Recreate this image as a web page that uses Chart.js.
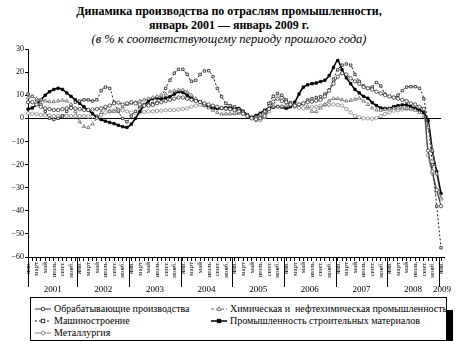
<!DOCTYPE html>
<html lang="ru">
  <head>
    <meta charset="UTF-8" />
    <title>Динамика производства по отраслям промышленности</title>
    <style>
      body {
        margin: 0;
        padding: 0;
        background-color: #fff;
        font-family: "Liberation Serif", "Times New Roman", serif;
        color: #000;
      }

      .wrap {
        position: relative;
        width: 458px;
        height: 341px;
        overflow: hidden;
      }

      .title {
        position: absolute;
        left: 0;
        top: 5px;
        width: 458px;
        text-align: center;
        line-height: 13.5px;
      }

      .title .main {
        font-weight: bold;
        font-size: 12px;
      }

      .title .sub {
        font-style: italic;
        font-size: 12.5px;
        margin-top: 1px;
      }

      #prodChart {
        position: absolute;
        left: 0;
        top: 0;
      }

      .legend {
        position: absolute;
        left: 30px;
        top: 297px;
        width: 417px;
        height: 44px;
        box-sizing: border-box;
        border: 1px solid #000;
        box-shadow: 6px 13px 0 #000;
        background: #fff;
        padding-top: 6px;
        font-size: 10px;
        line-height: 10px;
        display: grid;
        grid-template-columns: 180px auto;
      }

      .legend .item {
        display: flex;
        align-items: center;
        height: 10px;
        white-space: pre;
      }

      .legend .item:nth-child(odd) {
        padding-left: 4px;
      }

      .legend svg {
        margin-right: 3px;
      }
    </style>
  </head>
  <body>
    <div class="wrap">
      <div class="title">
        <div class="main">Динамика производства по отраслям промышленности,</div>
        <div class="main">январь 2001 — январь 2009 г.</div>
        <div class="sub">(в % к соответствующему периоду прошлого года)</div>
      </div>
      <canvas id="prodChart" width="458" height="296"></canvas>
      <div class="legend" id="legend"></div>
    </div>

    <script src="https://cdn.jsdelivr.net/npm/chart.js"></script>
    <script>
      const years = [2001, 2002, 2003, 2004, 2005, 2006, 2007, 2008, 2009];
      const monthNames = ["янв.", "", "март", "", "май", "", "июль", "", "сент.", "", "нояб.", ""];

      // Обрабатывающие производства
      const obrab = [
        7, 7, 6, 5, 4.3, 4, 3.6, 3.6, 4, 4.3, 4.5, 4.3,
        4, 3.6, 3.6, 3.8, 4, 4.3, 5, 5.5, 6.5, 6.8, 6, 6.5,
        7, 6.5, 6, 5.5, 5.5, 5.8, 6.5, 7, 7.5, 8, 8.5, 9,
        9, 8.5, 8, 7.5, 7, 6.5, 6, 5.5, 5, 4.5, 4.2, 4,
        3.6, 3, 2, 1, 0, -0.5, 0, 1, 4, 7.2, 8.5, 7.5,
        7, 6, 5.5, 6, 6.5, 7, 7.2, 7.6, 8, 9.5, 12, 15,
        18, 19.5, 19, 17.3, 16, 15, 13.5, 13, 12.5, 11.5, 10.8, 10,
        9.5, 9, 8.5, 8, 7.5, 6.5, 6, 5, 4, -14, -23, -31,
        -38,
      ];

      // Машиностроение
      const mash = [
        10.5, 9.5, 8, 6, 3, 0, -0.5, 0, 1, 3, 5.5, 7,
        7.5, 8, 8, 7.5, 8, 12, 13.5, 13, 7, 3, 0, -1.5,
        1, 3, 5, 6, 6, 6.5, 7, 9.5, 13, 16.5, 19.5, 21.2,
        21.2, 19, 16, 16.5, 19, 20.5, 20.6, 18, 13, 9.5, 6.5, 5.5,
        5, 4, 3, 1.4, 0, -0.7, 0.5, 2.5, 6.5, 9.5, 10.8, 10,
        8, 6.8, 5.8, 5.8, 6.5, 7.9, 8.5, 9, 9.4, 10.5, 12.3, 17,
        21, 23, 23.5, 23, 19, 16, 14, 13, 13.5, 15.5, 14, 10.5,
        9.5, 9, 10, 12, 13.5, 13.7, 13.7, 13, 8.5, -3, -20, -38,
        -56,
      ];

      // Металлургия
      const metall = [
        2.2, 2, 1.8, 1.5, 1.4, 1.2, 1, 1, 1, 1, 1, 1,
        1, 1, 0.8, 0.8, 1, 1.5, 2.5, 3, 3.5, 3.8, 3.5, 3,
        2.5, 2.2, 2.5, 2.8, 3, 3, 3.2, 3.3, 3.5, 3.6, 3.6, 3.8,
        4, 4.3, 5, 5.5, 5.8, 5.5, 5, 4.8, 4.5, 4.3, 4, 3.8,
        3.5, 3, 2.5, 1.5, 0.5, -0.5, -0.8, 0.5, 3, 6.5, 9.5, 9,
        7.5, 6, 5, 4.5, 4.3, 4.5, 5, 5, 5.5, 5.8, 5.8, 6,
        5.8, 5.5, 4, 2.5, 1, 0.5, 0, 0, -0.2, 0.2, 1, 1.9,
        2.5, 3.3, 3.5, 3.8, 4, 4.3, 4.3, 3.5, 2.5, -16, -24, -32,
        -35,
      ];

      // Химическая и нефтехимическая промышленность
      const khim = [
        9, 9.5, 8.5, 8, 7.5, 7.2, 7.2, 7.5, 7.8, 7.5, 6, 3,
        -1.5, -3.5, -4, -2.5, 0, 2.5, 4.3, 3, 2.9, 3.5, 5, 6,
        6.5, 7, 7.5, 8, 8.5, 9, 9.5, 10, 10.5, 11.5, 12, 12.3,
        12.3, 11.5, 10, 8.5, 7, 5.5, 4.5, 3.5, 2.5, 1.8, 1.9, 1.9,
        2, 2.2, 2, 1.5, 0.5, 0.5, 1.5, 3, 4.5, 5, 5, 5.2,
        5.5, 5.8, 5.8, 6, 6.2, 5, 3, 2.9, 4.5, 6, 7.5, 8.5,
        8.5, 8, 7.5, 7.8, 8.2, 8.7, 7.5, 6, 4.5, 3.6, 3.5, 3.8,
        4, 4.3, 4.5, 4.5, 4.3, 4, 3.5, 2.5, 1, -4, -14, -24,
        -34.5,
      ];

      // Промышленность строительных материалов
      const stroy = [
        4, 4.5, 6, 8, 10, 11.5, 12.5, 13, 12.5, 11, 9.5, 8,
        6.5, 5, 3.5, 2, 0.5, -0.5, -1.2, -1.8, -2.3, -3, -3.6, -3.9,
        -2.5, 0, 3, 5.5, 7.5, 8.5, 8.8, 8.4, 8.8, 9.4, 10.5, 11.5,
        11.2, 10, 8.7, 7.8, 7.2, 6, 4.8, 4.3, 4.3, 4.4, 4.6, 4.5,
        4.4, 4.3, 3, 1.5, 0.4, 1.2, 2.2, 3.5, 4.3, 4.8, 5.1, 4.9,
        4.3, 5, 7, 10.5, 13.5, 14.5, 15, 15.3, 15.9, 16.5, 18.5, 22,
        25, 21, 17.5, 15, 12.5, 11, 9.5, 8.7, 6.8, 5.5, 4.5, 4.3,
        4.3, 5, 5.5, 5.8, 5.8, 5, 4.3, 3.5, 2.5, -1, -14, -23,
        -32.5,
      ];

      const labels = [];
      years.forEach((y) => {
        monthNames.forEach((m, k) => {
          if (y < 2009 || k === 0) labels.push(y + "-" + (k + 1));
        });
      });

      const serif = '"Liberation Serif", "Times New Roman", serif';

      const seriesList = [
        {
          label: "Обрабатывающие производства",
          data: obrab,
          color: "#333",
          dash: [],
          point: "circle",
          fill: "#fff",
        },
        {
          label: "Химическая и  нефтехимическая промышленность",
          data: khim,
          color: "#666",
          dash: [3, 2],
          point: "triangle",
          fill: "#fff",
        },
        {
          label: "Машиностроение",
          data: mash,
          color: "#222",
          dash: [2, 2],
          point: "rect",
          fill: "#fff",
        },
        {
          label: "Промышленность строительных материалов",
          data: stroy,
          color: "#000",
          dash: [],
          point: "rect",
          fill: "#000",
        },
        {
          label: "Металлургия",
          data: metall,
          color: "#888",
          dash: [],
          point: "circle",
          fill: "#fff",
        },
      ];

      const datasets = seriesList.map((s) => ({
        label: s.label,
        data: s.data,
        borderColor: s.color,
        borderWidth: s.fill === "#000" ? 1.6 : 1,
        borderDash: s.dash,
        pointStyle: s.point,
        pointRadius: s.point === "triangle" ? 2 : 1.7,
        pointBorderWidth: 0.8,
        pointBorderColor: s.color,
        pointBackgroundColor: s.fill,
        tension: 0.3,
        fill: false,
      }));

      // year captions and separators under the month labels
      const yearMarks = {
        id: "yearMarks",
        afterDraw(chart) {
          const { ctx, chartArea } = chart;
          const x = chart.scales.x;
          const bottom = chartArea.bottom;
          const sepAt = (idx) =>
            idx === 0
              ? chartArea.left
              : (x.getPixelForValue(idx) + x.getPixelForValue(idx - 1)) / 2;
          ctx.save();
          ctx.strokeStyle = "#000";
          ctx.lineWidth = 1;
          ctx.fillStyle = "#000";
          ctx.font = "9px " + serif;
          ctx.textAlign = "center";
          ctx.textBaseline = "middle";
          // axis runs a little past the last month
          ctx.beginPath();
          ctx.moveTo(chartArea.right, Math.round(bottom) + 0.5);
          ctx.lineTo(chartArea.right + 4, Math.round(bottom) + 0.5);
          ctx.stroke();
          years.forEach((yr, k) => {
            const start = k * 12;
            const xs = Math.round(sepAt(start)) + 0.5;
            ctx.beginPath();
            ctx.moveTo(xs, bottom);
            ctx.lineTo(xs, bottom + 30);
            ctx.stroke();
            let center;
            if (start + 12 < labels.length) {
              center = (sepAt(start) + sepAt(start + 12)) / 2;
            } else {
              center = x.getPixelForValue(start) + 1;
            }
            ctx.fillText(String(yr), center, bottom + 33);
          });
          ctx.restore();
        },
      };

      const ctx = document.getElementById("prodChart").getContext("2d");
      new Chart(ctx, {
        type: "line",
        data: { labels: labels, datasets: datasets },
        plugins: [yearMarks],
        options: {
          responsive: false,
          animation: false,
          layout: { padding: { top: 49, right: 17, left: 0, bottom: 0 } },
          plugins: {
            legend: { display: false },
            tooltip: { enabled: false },
          },
          scales: {
            x: {
              grid: {
                drawOnChartArea: false,
                tickLength: 4,
                color: "#000",
                tickColor: "#000",
              },
              border: { color: "#000" },
              ticks: {
                autoSkip: false,
                maxRotation: 90,
                minRotation: 90,
                padding: 1,
                color: "#000",
                font: { family: serif, size: 7 },
                callback: (v, i) => monthNames[i % 12],
              },
              afterFit: (scale) => {
                scale.height = 39;
              },
            },
            y: {
              min: -60,
              max: 30,
              grid: {
                color: (c) => (c.tick && c.tick.value === 0 ? "#000" : "rgba(0,0,0,0)"),
                tickColor: "#000",
                tickLength: 3,
              },
              border: { color: "#000" },
              ticks: {
                stepSize: 10,
                padding: 1,
                color: "#000",
                font: { family: serif, size: 8 },
                callback: (v) => (v < 0 ? "\u2212" + Math.abs(v) : String(v)),
              },
              afterFit: (scale) => {
                scale.width = 28;
              },
            },
          },
        },
      });

      // legend as html, samples drawn in svg
      const legendBox = document.getElementById("legend");
      seriesList.forEach((s) => {
        const item = document.createElement("div");
        item.className = "item";
        let marker;
        if (s.point === "circle") {
          marker = '<circle cx="8" cy="4" r="1.8" fill="' + s.fill + '" stroke="' + s.color + '" stroke-width="0.9"/>';
        } else if (s.point === "rect") {
          marker = '<rect x="6.3" y="2.3" width="3.4" height="3.4" fill="' + s.fill + '" stroke="' + s.color + '" stroke-width="0.9"/>';
        } else {
          marker = '<polygon points="8,1.8 10,5.6 6,5.6" fill="' + s.fill + '" stroke="' + s.color + '" stroke-width="0.9"/>';
        }
        const dash = s.dash.length ? ' stroke-dasharray="' + s.dash.join(" ") + '"' : "";
        item.innerHTML =
          '<svg width="16" height="8" viewBox="0 0 16 8"><line x1="0" y1="4" x2="16" y2="4" stroke="' +
          s.color + '" stroke-width="' + (s.fill === "#000" ? 1.5 : 1) + '"' + dash + "/>" + marker + "</svg>" +
          "<span>" + s.label + "</span>";
        legendBox.appendChild(item);
      });
    </script>
  </body>
</html>
